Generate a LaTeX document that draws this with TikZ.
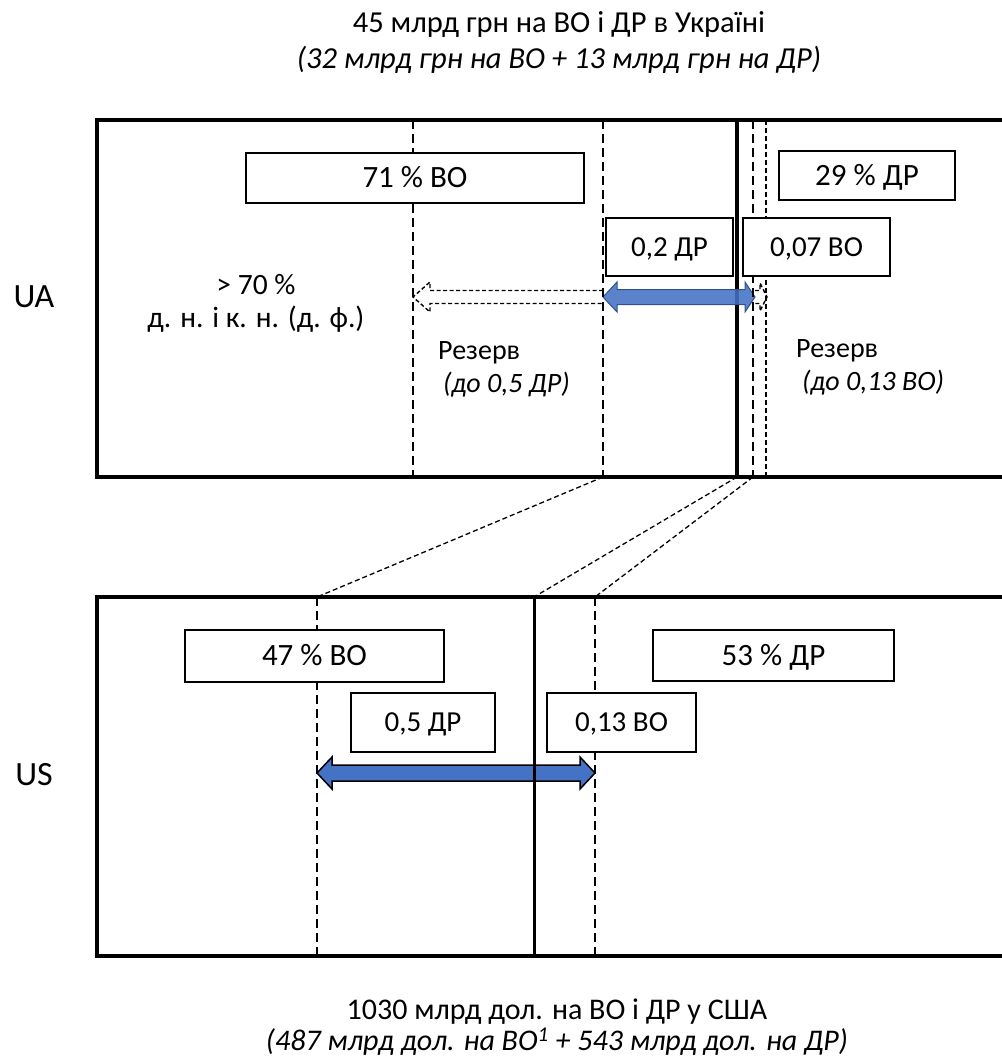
\documentclass[tikz,border=0pt]{standalone}
\usepackage{fontspec}
\setmainfont{Carlito}
\usepackage{xcolor}
\usepackage{tikz}
\usetikzlibrary{positioning}

\definecolor{shareblue}{HTML}{4472C4}
\definecolor{shareedge}{HTML}{2F528F}

\tikzset{
  frame/.style={line width=4pt},
  split/.style={line width=3.5pt},
  cut/.style={line width=2.8pt, dash pattern=on 9pt off 5pt},
  finecut/.style={line width=1.6pt, dash pattern=on 5pt off 3pt},
  link/.style={line width=1.3pt, dash pattern=on 5pt off 3pt},
  share/.style={draw, fill=white, line width=1.3pt, inner sep=0pt, text height=19.8pt, text depth=0pt,
    font=\fontsize{31}{36}\selectfont},
  part/.style={draw, fill=white, line width=1.3pt, inner sep=0pt, text height=18.6pt, text depth=0pt,
    font=\fontsize{29}{32}\selectfont},
  headline/.style={align=center, font=\fontsize{30.5}{36}\selectfont},
  country/.style={font=\fontsize{34}{40}\selectfont},
  reserve/.style={align=left, inner sep=0pt, anchor=north west, font=\fontsize{28}{33}\selectfont},
  ghost/.style={line width=1.4pt, dash pattern=on 4pt off 2.5pt},
  swap/.style={fill=shareblue, draw=shareedge, line width=1pt}
}

\begin{document}
\begin{tikzpicture}[x=1pt, y=-1pt]
\useasboundingbox (0,0) rectangle (1001,1059);

% titles

\node [headline] at (559, 43) (uaTitle) {45 млрд грн на ВО і ДР в Україні\\ \textit{(32 млрд грн на ВО + 13 млрд грн на ДР)}};
\node [headline, font=\fontsize{30}{31}\selectfont] at (557, 1027) (usTitle) {1030 млрд дол. на ВО і ДР у США\\ \textit{(487 млрд дол. на ВО\textsuperscript{1} + 543 млрд дол. на ДР)}};

\node [country] at (34, 297) (ua) {UA};
\node [country] at (34, 775) (us) {US};

% UA budget

\coordinate (uaCoreT) at (413, 120);   \coordinate (uaCoreB) at (413, 477);
\coordinate (uaHalfT) at (603, 120);   \coordinate (uaHalfB) at (603, 477);
\coordinate (uaSplitT) at (737, 120);  \coordinate (uaSplitB) at (737, 477);
\coordinate (uaShiftT) at (753, 120);  \coordinate (uaShiftB) at (753, 477);
\coordinate (uaEdgeT) at (766, 120);   \coordinate (uaEdgeB) at (766, 477);

\draw [frame] (1010, 120) -- (97, 120) -- (97, 477) -- (1010, 477);
\draw [split] (uaSplitT) -- (uaSplitB);

\draw [swap, fill opacity=0.88] (603, 297) -- (617, 282) -- (617, 289.5) -- (745, 289.5) -- (745, 282) -- (755, 297)
  -- (745, 312) -- (745, 304.5) -- (617, 304.5) -- (617, 312) -- cycle;
\draw [ghost] (603, 290.5) -- (430, 290.5) -- (430, 282) -- (413, 297) -- (430, 312) -- (430, 303.5) -- (603, 303.5);
\draw [ghost] (755, 290.5) -- (760, 290.5) -- (760, 283) -- (767, 297) -- (760, 311) -- (760, 303.5) -- (755, 303.5);

\draw [cut] (uaCoreT) -- (uaCoreB);
\draw [cut] (uaHalfT) -- (uaHalfB);
\draw [cut] (uaShiftT) -- (uaShiftB);
\draw [finecut] (uaEdgeT) -- (uaEdgeB);

\node [share, minimum width=338pt, minimum height=50pt] at (415, 178) (uaVO) {71 \% ВО};
\node [share, minimum width=176pt, minimum height=49pt] at (867, 175.5) (uaDR) {29 \% ДР};
\node [part, minimum width=127pt, minimum height=58pt] at (669.5, 247) (uaToDR) {0,2 ДР};
\node [part, minimum width=147pt, minimum height=58pt] at (816.5, 247) (uaToVO) {0,07 ВО};

\node [align=center, font=\fontsize{29.5}{33}\selectfont] at (256, 303) (uaFund) {> 70 \%\\ д. н. і к. н. (д. ф.)};
\node [reserve] at (438, 341) (uaResVO) {Резерв\\ \hspace*{5pt}\textit{(до 0,5 ДР)}};
\node [reserve] at (796, 339) (uaResDR) {Резерв\\ \hspace*{6pt}\textit{(до 0,13 ВО)}};

% US budget

\coordinate (usCoreT) at (317, 597);   \coordinate (usCoreB) at (317, 956);
\coordinate (usSplitT) at (534, 597);  \coordinate (usSplitB) at (534, 956);
\coordinate (usShiftT) at (595, 597);  \coordinate (usShiftB) at (595, 956);

\draw [frame] (1010, 597) -- (97, 597) -- (97, 956) -- (1010, 956);

\draw [swap, draw=black, line width=1.5pt] (317, 773) -- (332, 757) -- (332, 765) -- (580, 765) -- (580, 757) -- (595, 773)
  -- (580, 789) -- (580, 781) -- (332, 781) -- (332, 789) -- cycle;

\draw [cut] (usCoreT) -- (usCoreB);
\draw [split, line width=3pt] (usSplitT) -- (usSplitB);
\draw [cut] (usShiftT) -- (usShiftB);

\node [share, minimum width=259pt, minimum height=52pt] at (314.5, 656) (usVO) {47 \% ВО};
\node [share, minimum width=241pt, minimum height=51pt] at (773.5, 655.5) (usDR) {53 \% ДР};
\node [part, minimum width=144pt, minimum height=59pt] at (423, 722.5) (usToDR) {0,5 ДР};
\node [part, minimum width=149pt, minimum height=59pt] at (621.5, 722.5) (usToVO) {0,13 ВО};

% links between the two

\draw [link] (uaHalfB) -- (usCoreT);
\draw [link] (uaSplitB) -- (usSplitT);
\draw [link] (uaShiftB) -- (usShiftT);

\end{tikzpicture}
\end{document}
